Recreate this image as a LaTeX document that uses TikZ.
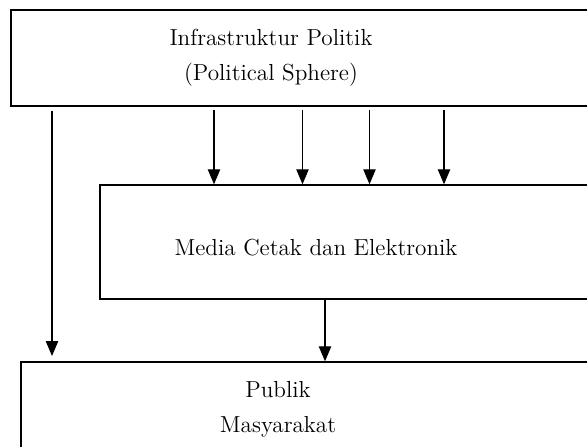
\documentclass[tikz,border=0pt]{standalone}
\usetikzlibrary{positioning}
\usetikzlibrary{arrows.meta}

\begin{document}
\begin{tikzpicture}[x=0.02cm, y=-0.02cm,
  box/.style={draw, line width=0.8pt, inner sep=0pt},
  txt/.style={align=center, font=\fontsize{13.2}{20}\selectfont},
  arr/.style={line width=0.7pt, -{Triangle[length=8.5pt, width=7pt]}}]

\useasboundingbox (0,0) rectangle (587,446);
\clip (0,0) rectangle (587,446);

% boxes
\node[box, line width=1.2pt, minimum width=11.78cm, minimum height=1.92cm] (pol) at (305.5,58) {};
\node[box, minimum width=10cm, minimum height=2.28cm] (med) at (350,242) {};
\node[box, minimum width=11.58cm, minimum height=2.2cm] (pub) at (310.5,417) {};

% texts
\node[txt] (poltxt) at (271,58) {Infrastruktur Politik\\(Political Sphere)};
\node[txt] (medtxt) at (316,248) {Media Cetak dan Elektronik};
\node[txt] (pubtxt) at (278,409) {Publik\\Masyarakat};

% arrows
\coordinate (a0) at (52,0);
\coordinate (a1) at (214,0);
\coordinate (a2) at (302.5,0);
\coordinate (a3) at (369.5,0);
\coordinate (a4) at (444,0);
\coordinate (a5) at (325,0);

\draw[arr, shorten <=2pt, shorten >=3pt] (pol.south -| a0) -- (pub.north -| a0);
\foreach \i in {1,...,4}
  \draw[arr, shorten <=1.5pt] (pol.south -| a\i) -- (med.north -| a\i);
\draw[arr] (med.south -| a5) -- (pub.north -| a5);

\end{tikzpicture}
\end{document}
